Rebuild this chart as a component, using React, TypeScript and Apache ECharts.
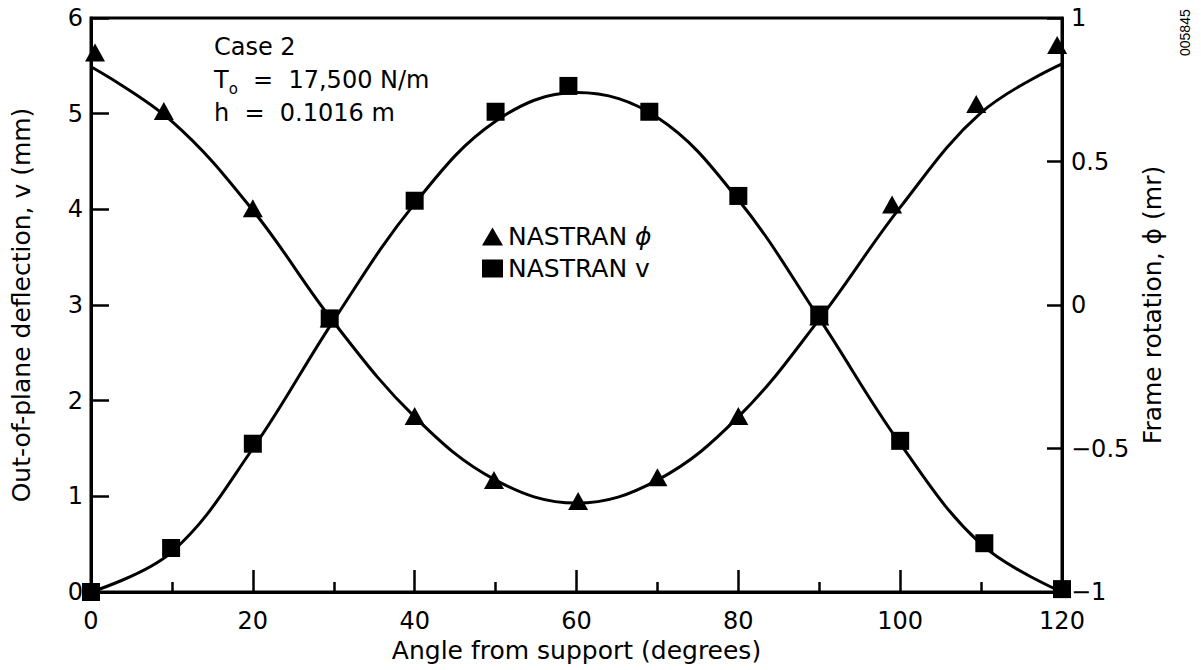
import React, { useEffect, useRef } from "react";
import * as echarts from "echarts";

const curveAngles = [0, 10, 20, 30, 40, 50, 60, 70, 80, 90, 100, 110, 120];
const curveV = [0, 0.42, 1.5, 2.84, 4.06, 4.92, 5.22, 4.96, 4.1, 2.86, 1.55, 0.5, 0];
const curvePhi = [0.83, 0.64, 0.33, -0.06, -0.39, -0.61, -0.69, -0.61, -0.39, -0.05, 0.34, 0.67, 0.84];

const squareAngles = [0, 9.9, 20, 29.5, 40, 50, 59, 69, 80, 90, 100, 110.4, 120];
const squareV = [0, 0.46, 1.55, 2.86, 4.09, 5.02, 5.29, 5.02, 4.14, 2.9, 1.58, 0.51, 0.03];

const triAngles = [0.5, 9, 20, 29.5, 40, 49.8, 60.2, 70, 80, 90, 99, 109.4, 119.4];
const triPhi = [0.88, 0.676, 0.337, -0.047, -0.387, -0.61, -0.683, -0.6, -0.387, -0.04, 0.35, 0.7, 0.906];

const FONT = "DejaVu Sans";

export default function App() {
  const ref = useRef<HTMLDivElement>(null);
  useEffect(() => {
    if (!ref.current) return;
    const chart = echarts.init(ref.current, undefined, { renderer: "svg" });
    const pair = (xs: number[], ys: number[]) => xs.map((x, i) => [x, ys[i]]);
    chart.setOption({
      animation: false,
      backgroundColor: "#fff",
      grid: {
        left: 91,
        right: 139,
        top: 18,
        bottom: 78,
        show: true,
        borderColor: "#000",
        borderWidth: 3,
        backgroundColor: "transparent",
      },
      legend: {
        orient: "vertical",
        left: 477,
        top: 219,
        itemWidth: 21,
        itemHeight: 18,
        itemGap: 7,
        data: ["NASTRAN φ", "NASTRAN v"],
        formatter: (name: string) => (name === "NASTRAN φ" ? "NASTRAN {i|ϕ}" : name),
        textStyle: {
          fontFamily: FONT,
          fontSize: 25,
          color: "#000",
          rich: { i: { fontFamily: FONT, fontSize: 25, fontStyle: "italic", color: "#000" } },
        },
      },
      xAxis: {
        type: "value",
        min: 0,
        max: 120,
        interval: 20,
        name: "Angle from support (degrees)",
        nameLocation: "middle",
        nameGap: 31,
        nameTextStyle: { fontFamily: FONT, fontSize: 25, color: "#000" },
        axisLine: { show: true, lineStyle: { color: "#000", width: 3 } },
        axisTick: { show: true, inside: true, length: 22, lineStyle: { color: "#000", width: 2.5 } },
        minorTick: { show: true, splitNumber: 2, length: 10, lineStyle: { color: "#000", width: 2.5 } },
        axisLabel: { fontFamily: FONT, fontSize: 24, color: "#000", margin: 17 },
        splitLine: { show: false },
        minorSplitLine: { show: false },
      },
      yAxis: [
        {
          type: "value",
          min: 0,
          max: 6,
          interval: 1,
          position: "left",
          name: "Out-of-plane deflection, v (mm)",
          nameLocation: "middle",
          nameRotate: 90,
          nameGap: 57,
          nameTextStyle: { fontFamily: FONT, fontSize: 25, color: "#000" },
          axisLine: { show: true, lineStyle: { color: "#000", width: 3 } },
          axisTick: { show: true, inside: true, length: 18, lineStyle: { color: "#000", width: 2.5 } },
          axisLabel: { fontFamily: FONT, fontSize: 24, color: "#000", margin: 8 },
          splitLine: { show: false },
        },
        {
          type: "value",
          min: -1,
          max: 1,
          interval: 0.5,
          position: "right",
          name: "Frame rotation, ϕ (mr)",
          nameLocation: "middle",
          nameRotate: 90,
          nameGap: 55,
          nameTextStyle: { fontFamily: FONT, fontSize: 25, color: "#000" },
          axisLine: { show: true, lineStyle: { color: "#000", width: 3 } },
          axisTick: { show: true, inside: true, length: 15, lineStyle: { color: "#000", width: 2.5 } },
          axisLabel: {
            fontFamily: FONT,
            fontSize: 24,
            color: "#000",
            margin: 9,
            formatter: (v: number) => (v < 0 ? "−" + Math.abs(v) : String(v)),
          },
          splitLine: { show: false },
        },
      ],
      graphic: [
        {
          type: "text",
          left: 214,
          top: 30,
          style: {
            text: "Case 2\n{a|T}{s|o}{a|  =  17,500 N/m}\nh  =  0.1016 m",
            fontFamily: FONT,
            fontSize: 24,
            lineHeight: 33,
            fill: "#000",
            rich: {
              a: { fontFamily: FONT, fontSize: 24, lineHeight: 33, fill: "#000" },
              s: { fontFamily: FONT, fontSize: 15, lineHeight: 33, fill: "#000", verticalAlign: "bottom", padding: [10, 0, 0, 0] },
            },
          },
        },
        {
          type: "text",
          x: 1185,
          y: 56,
          rotation: Math.PI / 2,
          style: {
            text: "005845",
            fontFamily: "Liberation Sans",
            fontSize: 14,
            fill: "#000",
            textAlign: "left",
            textVerticalAlign: "middle",
          },
        },
      ],
      series: [
        {
          name: "curveV",
          type: "line",
          yAxisIndex: 0,
          data: pair(curveAngles, curveV),
          smooth: 0.38,
          showSymbol: false,
          symbol: "none",
          lineStyle: { color: "#000", width: 3 },
          silent: true,
          z: 2,
        },
        {
          name: "curvePhi",
          type: "line",
          yAxisIndex: 1,
          data: pair(curveAngles, curvePhi),
          smooth: 0.38,
          showSymbol: false,
          symbol: "none",
          lineStyle: { color: "#000", width: 3 },
          silent: true,
          z: 2,
        },
        {
          name: "NASTRAN φ",
          type: "scatter",
          yAxisIndex: 1,
          data: pair(triAngles, triPhi),
          symbol: "triangle",
          symbolSize: [20, 18],
          itemStyle: { color: "#000", opacity: 1 },
          z: 3,
        },
        {
          name: "NASTRAN v",
          type: "scatter",
          yAxisIndex: 0,
          data: pair(squareAngles, squareV),
          symbol: "rect",
          symbolSize: 18,
          itemStyle: { color: "#000", opacity: 1 },
          z: 3,
        },
      ],
    });
    return () => chart.dispose();
  }, []);
  return <div ref={ref} style={{ position: "fixed", left: 0, top: 0, width: 1201, height: 670 }} />;
}
